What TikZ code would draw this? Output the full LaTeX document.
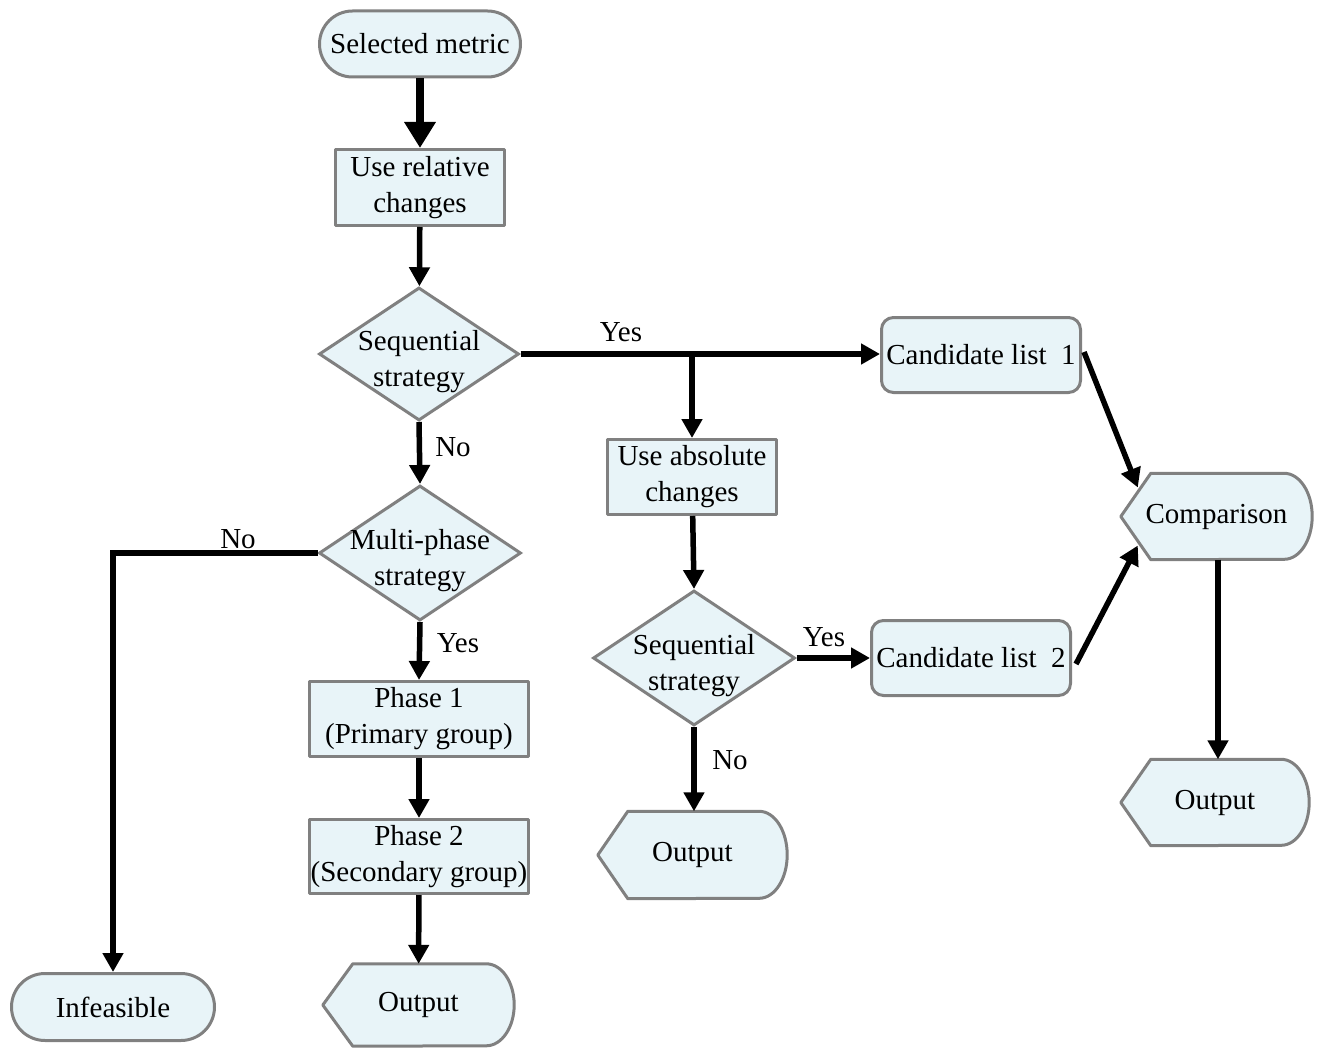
\documentclass[tikz,border=0pt]{standalone}
\usepackage{fontspec}
\setmainfont{Liberation Serif}
\usetikzlibrary{shapes.geometric,arrows.meta,calc,backgrounds}
\definecolor{boxfill}{RGB}{232,244,248}
\definecolor{boxline}{RGB}{128,128,128}
\newcommand{\dtext}[1]{\raisebox{-27pt}{\smash{\begin{tabular}{@{}c@{}}#1\end{tabular}}}}
\newcommand{\low}[1]{\raisebox{-4pt}{#1}}
\newcommand{\dispshape}[2]{%
  \path[boxsh] (#1.west) -- ($(#1.north west)+(30,0)$) -- ($(#1.north east)+(-28,0)$)
    arc[start angle=90,end angle=-90,x radius=28pt,y radius=#2pt]
    -- ($(#1.south west)+(30,0)$) -- cycle;}
\begin{document}
\begin{tikzpicture}[x=1pt,y=-1pt,
  every node/.style={font=\fontsize{29}{36}\selectfont},
  boxsh/.style={draw=boxline, line width=3pt, fill=boxfill, line join=round},
  box/.style={boxsh, inner sep=0pt, align=center},
  rect/.style={box, rectangle},
  term/.style={box, rectangle},
  rbox/.style={box, rectangle, rounded corners=12pt},
  dia/.style={box, diamond, shape aspect=1.5, line join=miter},
  dispn/.style={rectangle, inner sep=0pt, align=center},
  lbl/.style={inner sep=0pt},
  arr/.style={draw=black, line width=5.5pt, -{Triangle[length=19pt,width=20pt]}},
  bigarr/.style={line width=8pt, -{Triangle[length=26pt,width=30pt]}}
]
\useasboundingbox (0,0) rectangle (1320,1051);

% nodes
\node[term, minimum width=201pt, minimum height=66pt, rounded corners=33pt] (sel) at (420,44) {Selected metric};
\node[rect, minimum width=169pt, minimum height=76pt] (rel) at (420,187.5) {Use relative\\changes};
\node[dia, minimum width=200pt, minimum height=133pt] (seq1) at (419,354) {\dtext{Sequential\\strategy}};
\node[dia, minimum width=202pt, minimum height=135pt] (mp) at (420,553) {\dtext{Multi-phase\\strategy}};
\node[rect, minimum width=219pt, minimum height=75pt] (ph1) at (419,719) {Phase 1\\(Primary group)};
\node[rect, minimum width=219pt, minimum height=74pt] (ph2) at (419,856.5) {Phase 2\\(Secondary group)};
\node[dispn, minimum width=191pt, minimum height=82pt] (out1) at (418.5,1005) {\low{Output}};
\node[term, minimum width=203pt, minimum height=67pt, rounded corners=33.5pt] (inf) at (113,1007) {Infeasible};
\node[rbox, minimum width=199pt, minimum height=75pt] (cl1) at (981,355) {Candidate list\hspace{0.25em} 1};
\node[rect, minimum width=169pt, minimum height=75pt] (abs) at (692,477) {Use absolute\\changes};
\node[dia, minimum width=202pt, minimum height=135pt] (seq2) at (694,658) {\dtext{Sequential\\strategy}};
\node[rbox, minimum width=199pt, minimum height=75pt] (cl2) at (971,658) {Candidate list\hspace{0.25em} 2};
\node[dispn, minimum width=189pt, minimum height=87pt] (out2) at (692.5,855) {\low{Output}};
\node[dispn, minimum width=191pt, minimum height=86pt] (cmp) at (1216.5,516.5) {\low{Comparison}};
\node[dispn, minimum width=188pt, minimum height=86pt] (out3) at (1215,802.5) {\low{Output}};

\begin{scope}[on background layer]
  \fill[white] (0,0) rectangle (1320,1051);
  \dispshape{out1}{41}
  \dispshape{out2}{43.5}
  \dispshape{cmp}{43}
  \dispshape{out3}{43}
\end{scope}

% labels
\node[lbl] (yes1) at (621,332) {Yes};
\node[lbl] (no1) at (453,447) {No};
\node[lbl] (no2) at (238,539) {No};
\node[lbl] (yes2) at (458,643) {Yes};
\node[lbl] (yes3) at (824,637) {Yes};
\node[lbl] (no3) at (730,760) {No};

% connectors
\draw[arr, bigarr] (sel) -- (rel);
\draw[arr] (rel) -- (seq1);
\draw[arr] (seq1.east) -- (seq1.east -| cl1.west);
\draw[arr] (seq1.east -| abs.north) -- (abs.north);
\draw[arr] (seq1.south) -- (mp.north);
\draw[arr] (mp.west) -| (inf.north);
\draw[arr] (mp.south) -- (ph1.north);
\draw[arr] (ph1) -- (ph2);
\draw[arr] (ph2) -- (out1);
\draw[arr] (abs) -- (seq2.north);
\draw[arr] (seq2.east) -- (seq2.east -| cl2.west);
\draw[arr] (seq2.south) -- (seq2.south |- out2.north);
\draw[arr] ($(cl1.east)+(2,-3)$) -- ($(cmp.west)+(17,-29)$);
\draw[arr] ($(cl2.east)+(4,6)$) -- ($(cmp.west)+(17,29)$);
\draw[arr] ($(cmp.south)+(1.5,0)$) -- ($(cmp.south |- out3.north)+(1.5,0)$);
\end{tikzpicture}
\end{document}
